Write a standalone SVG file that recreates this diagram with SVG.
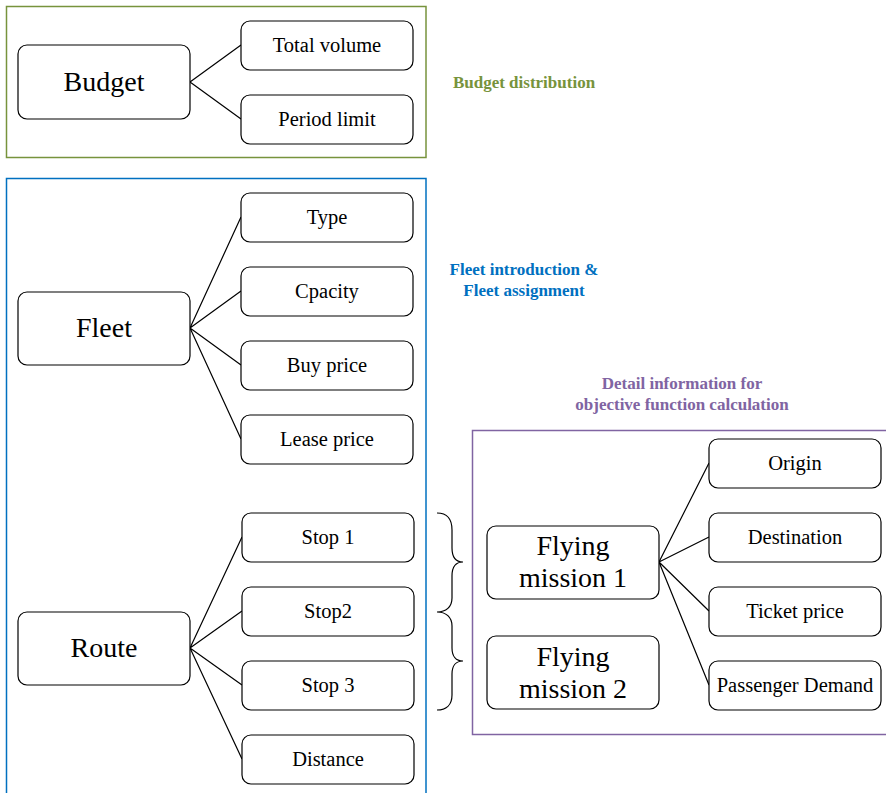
<svg xmlns="http://www.w3.org/2000/svg" width="886" height="793" viewBox="0 0 886 793">
<style>
.n{fill:#fff;stroke:#000;stroke-width:1.2}
text{font-family:'Liberation Serif','Times New Roman','DejaVu Serif',serif}
.t{font-size:20.5px;text-anchor:middle;fill:#000}
.b{font-size:28px;text-anchor:middle;fill:#000}
.l{font-size:17px;font-weight:bold;text-anchor:middle}
.c{fill:none;stroke:#000;stroke-width:1.2}
</style>
<rect width="886" height="793" fill="#fff"/>
<g id="frames" fill="none" stroke-width="1.5">
<rect x="6.5" y="6.5" width="419.5" height="151" stroke="#77933C"/>
<rect x="6.5" y="178.5" width="419.5" height="620" stroke="#0070C0"/>
<rect x="472.5" y="430.5" width="420" height="304" stroke="#8064A2"/>
</g>
<g id="labels" font-family="Liberation Serif, serif">
<text class="l" x="524" y="88" fill="#77933C">Budget distribution</text>
<text class="l" x="524" y="275" fill="#0070C0">Fleet introduction &amp;</text>
<text class="l" x="524" y="296" fill="#0070C0">Fleet assignment</text>
<text class="l" x="682" y="389" fill="#8064A2">Detail information for</text>
<text class="l" x="682" y="410" fill="#8064A2">objective function calculation</text>
</g>
<g id="connectors" class="c">
<path d="M190,82L241,45M190,82L241,119"/>
<path d="M190,328L241,217M190,328L241,291M190,328L241,365M190,328L241,439"/>
<path d="M190,648L242,537M190,648L242,611M190,648L242,685M190,648L242,759"/>
<path d="M659,562L709,463M659,562L709,537M659,562L709,611M659,562L709,685"/>
<path d="M437,513C446,513 452,518 452,530L452,548C452,557 456,562 463,562C456,562 452,567 452,576L452,598C452,607 446,612 437,612C446,612 452,617 452,626L452,648C452,656 456,661 463,661C456,661 452,666 452,674L452,695C452,705 446,710 437,710"/>
</g>
<g id="budget"><rect class="n" x="18" y="45" width="172" height="74" rx="9"/><text class="b" x="104" y="91">Budget</text></g>
<g id="total-volume"><rect class="n" x="241" y="21" width="172" height="49" rx="9"/><text class="t" x="327" y="52">Total volume</text></g>
<g id="period-limit"><rect class="n" x="241" y="95" width="172" height="49" rx="9"/><text class="t" x="327" y="126">Period limit</text></g>
<g id="fleet"><rect class="n" x="18" y="292" width="172" height="73" rx="9"/><text class="b" x="104" y="337">Fleet</text></g>
<g id="type"><rect class="n" x="241" y="193" width="172" height="49" rx="9"/><text class="t" x="327" y="224">Type</text></g>
<g id="cpacity"><rect class="n" x="241" y="267" width="172" height="49" rx="9"/><text class="t" x="327" y="298">Cpacity</text></g>
<g id="buy-price"><rect class="n" x="241" y="341" width="172" height="49" rx="9"/><text class="t" x="327" y="372">Buy price</text></g>
<g id="lease-price"><rect class="n" x="241" y="415" width="172" height="49" rx="9"/><text class="t" x="327" y="446">Lease price</text></g>
<g id="route"><rect class="n" x="18" y="612" width="172" height="73" rx="9"/><text class="b" x="104" y="657">Route</text></g>
<g id="stop1"><rect class="n" x="242" y="513" width="172" height="49" rx="9"/><text class="t" x="328" y="544">Stop 1</text></g>
<g id="stop2"><rect class="n" x="242" y="587" width="172" height="49" rx="9"/><text class="t" x="328" y="618">Stop2</text></g>
<g id="stop3"><rect class="n" x="242" y="661" width="172" height="49" rx="9"/><text class="t" x="328" y="692">Stop 3</text></g>
<g id="distance"><rect class="n" x="242" y="735" width="172" height="49" rx="9"/><text class="t" x="328" y="766">Distance</text></g>
<g id="mission1"><rect class="n" x="487" y="526" width="172" height="73" rx="9"/><text class="b" x="573" y="555">Flying</text><text class="b" x="573" y="587">mission 1</text></g>
<g id="mission2"><rect class="n" x="487" y="636" width="172" height="73" rx="9"/><text class="b" x="573" y="666">Flying</text><text class="b" x="573" y="698">mission 2</text></g>
<g id="origin"><rect class="n" x="709" y="439" width="172" height="49" rx="9"/><text class="t" x="795" y="470">Origin</text></g>
<g id="destination"><rect class="n" x="709" y="513" width="172" height="49" rx="9"/><text class="t" x="795" y="544">Destination</text></g>
<g id="ticket-price"><rect class="n" x="709" y="587" width="172" height="49" rx="9"/><text class="t" x="795" y="618">Ticket price</text></g>
<g id="passenger-demand"><rect class="n" x="709" y="661" width="172" height="49" rx="9"/><text class="t" x="795" y="692">Passenger Demand</text></g>
</svg>
